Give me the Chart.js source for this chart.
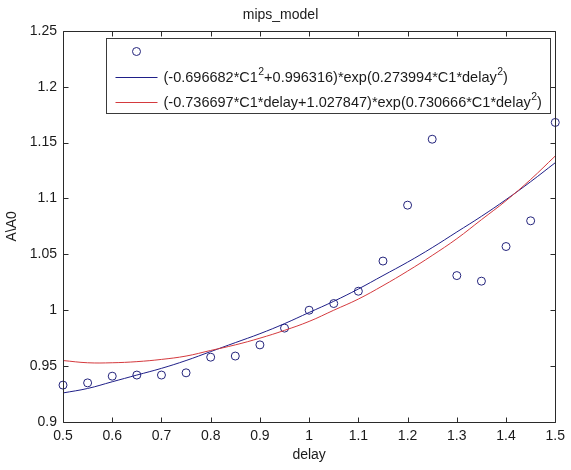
<!DOCTYPE html>
<html>
<head>
<meta charset="utf-8">
<title>mips_model</title>
<script src="https://cdn.jsdelivr.net/npm/chart.js@4/dist/chart.umd.min.js"></script>
<style>
  html, body { margin: 0; padding: 0; background: #ffffff; }
  canvas { display: block; }
</style>
</head>
<body>
<canvas id="c" width="571" height="470"></canvas>
<script>
// Delay values at which the ratio was measured
const delay = [0.5, 0.55, 0.6, 0.65, 0.7, 0.75, 0.8, 0.85, 0.9, 0.95, 1.0,
               1.05, 1.1, 1.15, 1.2, 1.25, 1.3, 1.35, 1.4, 1.45, 1.5];

// Measured A/A0 ratio
const measured = [0.933, 0.935, 0.941, 0.942, 0.942, 0.944, 0.958, 0.959, 0.969, 0.984, 1.000,
                  1.006, 1.017, 1.044, 1.094, 1.153, 1.031, 1.026, 1.057, 1.080, 1.168];

// Fitted model curves sampled at the same delays
const fitQuadratic = [0.926, 0.930, 0.936, 0.942, 0.948, 0.955, 0.963, 0.971, 0.979, 0.988, 0.998,
                      1.008, 1.019, 1.031, 1.043, 1.056, 1.070, 1.084, 1.099, 1.115, 1.132];
const fitLinear = [0.955, 0.953, 0.953, 0.954, 0.956, 0.959, 0.964, 0.969, 0.975, 0.982, 0.990,
                   1.000, 1.010, 1.022, 1.035, 1.049, 1.064, 1.081, 1.098, 1.117, 1.138];

// Legend labels
const labels = [
  '',
  '(-0.696682*C1\u00B2+0.996316)*exp(0.273994*C1*delay\u00B2)',
  '(-0.736697*C1*delay+1.027847)*exp(0.730666*C1*delay\u00B2)'
];

const FONT = '"Liberation Sans", Arial, Helvetica, sans-serif';
const AXIS_COLOR = '#2a2a2a';
const TEXT_COLOR = '#1a1a1a';
const BLUE = '#1f1f88';
const RED = '#d43a3e';
const MARKER = '#24247c';
const LEGEND_SIZE = 14.5;

const pts = (ys) => delay.map((x, i) => ({ x: x, y: ys[i] }));
const fmt = (v) => String(parseFloat(Number(v).toFixed(2)));

// Writes a label, setting each "²" as a smaller raised 2
function drawRichText(ctx, text, x, y, size) {
  const parts = text.split('\u00B2');
  let cx = x;
  parts.forEach((part, i) => {
    ctx.font = size + 'px ' + FONT;
    ctx.fillText(part, cx, y);
    cx += ctx.measureText(part).width;
    if (i < parts.length - 1) {
      const sub = size * 0.72;
      ctx.font = sub + 'px ' + FONT;
      ctx.fillText('2', cx + 0.5, y - size * 0.38);
      cx += ctx.measureText('2').width + 0.5;
    }
  });
}

// Axes box with inward ticks on all four sides, and the boxed legend
const framePlugin = {
  id: 'frame',
  afterDraw(chart) {
    const ctx = chart.ctx;
    const ca = chart.chartArea;
    const xs = chart.scales.x, ys = chart.scales.y;
    const L = Math.round(ca.left) + 0.5, R = Math.round(ca.right) + 0.5;
    const T = Math.round(ca.top) + 0.5, B = Math.round(ca.bottom) + 0.5;
    const tl = 5;
    ctx.save();
    ctx.strokeStyle = AXIS_COLOR;
    ctx.lineWidth = 1;
    ctx.beginPath();
    ctx.rect(L, T, R - L, B - T);
    xs.ticks.forEach(t => {
      const p = Math.round(xs.getPixelForValue(t.value)) + 0.5;
      ctx.moveTo(p, B); ctx.lineTo(p, B - tl);
      ctx.moveTo(p, T); ctx.lineTo(p, T + tl);
    });
    ys.ticks.forEach(t => {
      const p = Math.round(ys.getPixelForValue(t.value)) + 0.5;
      ctx.moveTo(L, p); ctx.lineTo(L + tl, p);
      ctx.moveTo(R, p); ctx.lineTo(R - tl, p);
    });
    ctx.stroke();

    // legend
    const x0 = L + 43, x1 = R - 5, y0 = T + 7, y1 = T + 82;
    ctx.fillStyle = '#ffffff';
    ctx.fillRect(x0, y0, x1 - x0, y1 - y0);
    ctx.strokeStyle = '#3a3a3a';
    ctx.strokeRect(x0, y0, x1 - x0, y1 - y0);
    ctx.textBaseline = 'middle';
    ctx.textAlign = 'left';
    chart.data.datasets.forEach((ds, i) => {
      const y = y0 + 13 + i * 25;
      const sx0 = x0 + 9, sx1 = x0 + 51;
      ctx.beginPath();
      ctx.strokeStyle = ds.borderColor;
      ctx.lineWidth = 1;
      if (ds.showLine === false) {
        ctx.arc((sx0 + sx1) / 2, y, ds.pointRadius, 0, Math.PI * 2);
      } else {
        ctx.moveTo(sx0, Math.round(y) + 0.5);
        ctx.lineTo(sx1, Math.round(y) + 0.5);
      }
      ctx.stroke();
      if (ds.label) {
        ctx.fillStyle = TEXT_COLOR;
        drawRichText(ctx, ds.label, x0 + 57, y + 1, LEGEND_SIZE);
      }
    });
    ctx.restore();
  }
};

new Chart(document.getElementById('c'), {
  type: 'line',
  data: {
    datasets: [
      {
        label: labels[0],
        data: pts(measured),
        showLine: false,
        pointStyle: 'circle',
        pointRadius: 4,
        pointBorderWidth: 1,
        borderColor: MARKER,
        pointBorderColor: MARKER,
        pointBackgroundColor: 'rgba(0,0,0,0)',
        backgroundColor: 'rgba(0,0,0,0)',
        clip: false,
        order: 3
      },
      {
        label: labels[1],
        data: pts(fitQuadratic),
        borderColor: BLUE,
        borderWidth: 1,
        pointRadius: 0,
        tension: 0.4,
        fill: false,
        order: 2
      },
      {
        label: labels[2],
        data: pts(fitLinear),
        borderColor: RED,
        borderWidth: 1,
        pointRadius: 0,
        tension: 0.4,
        fill: false,
        order: 1
      }
    ]
  },
  options: {
    responsive: false,
    animation: false,
    events: [],
    layout: { padding: { left: 0, right: 10, top: 0, bottom: 0 } },
    plugins: {
      legend: { display: false },
      tooltip: { enabled: false },
      title: {
        display: true,
        text: 'mips_model',
        color: TEXT_COLOR,
        font: { family: FONT, size: 14, weight: 'normal' },
        padding: { top: 7, bottom: 7 }
      }
    },
    scales: {
      x: {
        type: 'linear',
        min: 0.5,
        max: 1.5,
        border: { display: false },
        grid: { display: false, drawTicks: false },
        ticks: {
          stepSize: 0.1,
          padding: 6,
          color: TEXT_COLOR,
          font: { family: FONT, size: 14 },
          callback: fmt,
          maxRotation: 0
        },
        title: {
          display: true,
          text: 'delay',
          color: TEXT_COLOR,
          font: { family: FONT, size: 14 },
          padding: { top: 2, bottom: 6 }
        },
        afterFit(s) { s.height = 48; }
      },
      y: {
        type: 'linear',
        min: 0.9,
        max: 1.25,
        border: { display: false },
        grid: { display: false, drawTicks: false },
        ticks: {
          stepSize: 0.05,
          padding: 6,
          color: TEXT_COLOR,
          font: { family: FONT, size: 14 },
          callback: fmt
        },
        title: {
          display: true,
          text: 'A\\A0',
          color: TEXT_COLOR,
          font: { family: FONT, size: 14 },
          padding: { top: 4, bottom: 2 }
        },
        afterFit(s) { s.width = 63; }
      }
    }
  },
  plugins: [framePlugin]
});
</script>
</body>
</html>
